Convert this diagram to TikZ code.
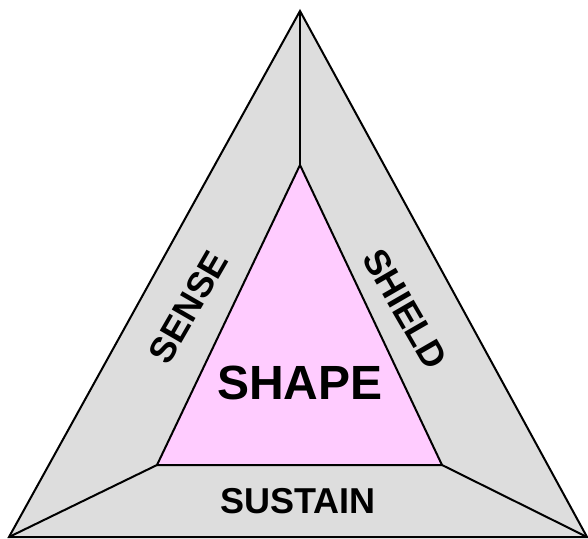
\documentclass[tikz,border=0pt]{standalone}
\usepackage{fontspec}
\setmainfont{Liberation Sans}
\usetikzlibrary{calc}
\definecolor{rim}{HTML}{DDDDDD}
\definecolor{core}{HTML}{FFCCFF}

\begin{document}
\begin{tikzpicture}[x=1pt,y=-1pt,
  edge/.style={draw=black,line width=2pt,line join=miter},
  side/.style={font=\bfseries\fontsize{36}{36}\selectfont,inner sep=0pt},
]
  \useasboundingbox (0,0) rectangle (588,538);
  % outer and inner corners
  \coordinate (top) at (300,11);
  \coordinate (bl) at (9,537);
  \coordinate (br) at (587,537);
  \coordinate (itop) at (300,165);
  \coordinate (ibl) at (157,465);
  \coordinate (ibr) at (442,465);
  \filldraw[edge,fill=rim] (top) -- (bl) -- (br) -- cycle;
  \filldraw[edge,fill=core] (itop) -- (ibl) -- (ibr) -- cycle;
  \draw[edge] (top) -- (itop);
  \draw[edge] (bl) -- (ibl);
  \draw[edge] (br) -- (ibr);
  \node[side,rotate=60] (sense) at (188,307) {SENSE};
  \node[side,rotate=-60] (shield) at (405,309) {SHIELD};
  \node[side] (sustain) at (298,501) {SUSTAIN};
  \node[side,font=\bfseries\fontsize{48}{48}\selectfont] (shape) at (300,383) {SHAPE};
\end{tikzpicture}
\end{document}
